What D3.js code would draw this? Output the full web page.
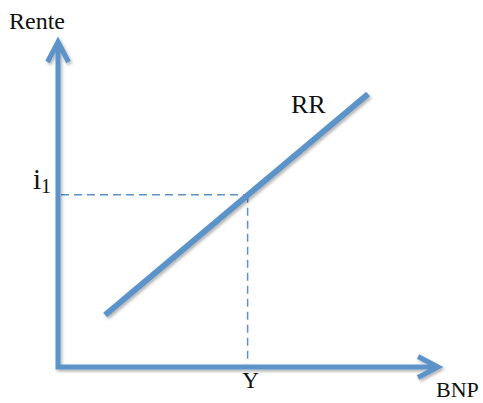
<!DOCTYPE html>
<html>
<head>
<meta charset="utf-8">
<script src="https://cdn.jsdelivr.net/npm/d3@7"></script>
<style>
  body { margin: 0; background: #fff; }
  text { font-family: "Liberation Serif", "DejaVu Serif", serif; fill: #111; }
</style>
</head>
<body>
<script>
// Data (model units).
const xDomain = [0, 10]
const yDomain = [0, 10]
const rrX = [1.24, 8.16]
const rrY = [1.6, 8.4]
const eqY = [4.99]
const eqI = [5.3]
const labels = { yAxis: 'Rente', xAxis: 'BNP', curve: 'RR', eqX: 'Y', eqYMain: 'i', eqYSub: '1' }

const W = 483, H = 403
const blue = '#5b93c8'

const svg = d3.select('body')
  .append('svg')
    .attr('width', W)
    .attr('height', H)

// Drop shadow like the original.
const defs = svg.append('defs')
defs.append('filter')
    .attr('id', 'shadow')
    .attr('x', '-20%').attr('y', '-20%')
    .attr('width', '140%').attr('height', '140%')
  .append('feDropShadow')
    .attr('dx', 1.5).attr('dy', 2)
    .attr('stdDeviation', 1.5)
    .attr('flood-color', '#000')
    .attr('flood-opacity', 0.3)

// Scales.
const x = d3.scaleLinear().domain(xDomain).range([58, 438])
const y = d3.scaleLinear().domain(yDomain).range([367, 42])

// Dashed guides.
const guides = svg.append('g')
    .attr('stroke', blue)
    .attr('stroke-width', 1.5)
    .attr('stroke-dasharray', '8,5')
    .attr('fill', 'none')

guides.append('line')
    .attr('x1', x(0) + 3).attr('y1', y(eqI[0]))
    .attr('x2', x(eqY[0])).attr('y2', y(eqI[0]))

guides.append('line')
    .attr('x1', x(eqY[0])).attr('y1', y(eqI[0]))
    .attr('x2', x(eqY[0])).attr('y2', y(0) - 3)

// Axes with arrowheads.
const axes = svg.append('g')
    .attr('stroke', blue)
    .attr('stroke-width', 5)
    .attr('fill', 'none')
    .attr('filter', 'url(#shadow)')

axes.append('path')
    .attr('stroke-linejoin', 'miter')
    .attr('d', d3.line()([[x(0), y(yDomain[1]) + 2], [x(0), y(0)], [x(xDomain[1]) - 2, y(0)]]))

axes.append('path')
    .attr('stroke-linejoin', 'miter')
    .attr('d', d3.line()([[x(0) - 10.5, y(yDomain[1]) + 20], [x(0), y(yDomain[1])], [x(0) + 10.5, y(yDomain[1]) + 20]]))

axes.append('path')
    .attr('stroke-linejoin', 'miter')
    .attr('d', d3.line()([[x(xDomain[1]) - 20, y(0) - 10.5], [x(xDomain[1]), y(0)], [x(xDomain[1]) - 20, y(0) + 10.5]]))

// RR curve.
svg.append('path')
    .datum(d3.zip(rrX, rrY))
    .attr('fill', 'none')
    .attr('stroke', blue)
    .attr('stroke-width', 6)
    .attr('filter', 'url(#shadow)')
    .attr('d', d3.line().x(d => x(d[0])).y(d => y(d[1])))

// Labels.
svg.append('text')
    .attr('x', 9).attr('y', 29)
    .style('font-size', '24px')
    .text(labels.yAxis)

svg.append('text')
    .attr('x', 436).attr('y', 397)
    .style('font-size', '22px')
    .text(labels.xAxis)

svg.append('text')
    .attr('x', 291).attr('y', 113)
    .style('font-size', '26px')
    .text(labels.curve)

svg.append('text')
    .attr('x', x(eqY[0]) + 3).attr('y', 388)
    .attr('text-anchor', 'middle')
    .style('font-size', '23px')
    .text(labels.eqX)

const iLab = svg.append('text')
    .attr('x', 33).attr('y', y(eqI[0]) - 6)
    .style('font-size', '29px')
iLab.append('tspan').text(labels.eqYMain)
iLab.append('tspan')
    .attr('dy', 4)
    .style('font-size', '20px')
    .text(labels.eqYSub)
</script>
</body>
</html>
